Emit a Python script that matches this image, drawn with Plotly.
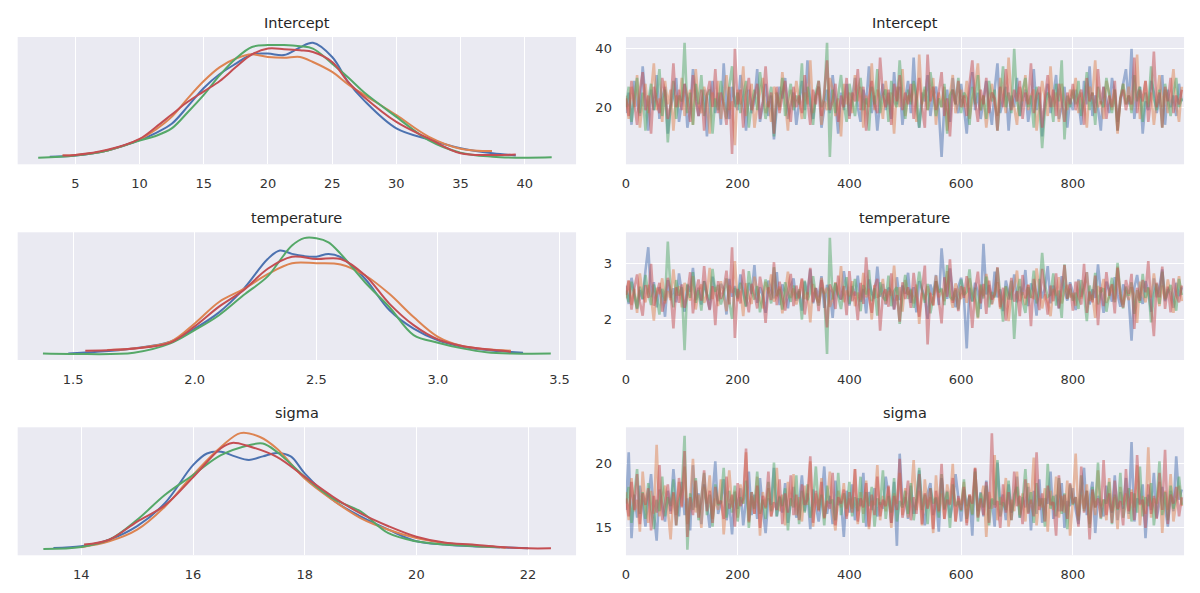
import plotly.graph_objects as go

# ---------------- data ----------------
colors = ["#4c72b0", "#dd8452", "#55a868", "#c44e52"]
params = ["Intercept", "temperature", "sigma"]
draws = list(range(0, 1000, 5))

# KDE curves (relative density)
int_kde_x = [
    [3, 5, 7.5, 10, 11.25, 12.5, 13.75, 15, 16.25, 17.5, 18.75, 20, 21.25, 22.5, 23.5, 25, 26.25, 27.5, 30, 32.5, 35, 37.5, 39.3],
    [4, 5, 7.5, 10, 11.25, 12.5, 13.75, 15, 16.25, 17.5, 18.75, 20, 21.25, 22.5, 23.5, 25, 26.25, 27.5, 30, 32.5, 35, 37.45],
    [2.1, 5, 7.5, 10, 11.25, 12.5, 13.75, 15, 16.25, 17.5, 18.75, 20, 21.25, 22.5, 23.5, 25, 26.25, 27.5, 30, 32.5, 35, 37.5, 40, 42.1],
    [4, 5, 7.5, 10, 11.25, 12.5, 13.75, 15, 16.25, 17.5, 18.75, 20, 21.25, 22.5, 23.5, 25, 26.25, 27.5, 30, 32.5, 35, 37.5, 39.3],
]
int_kde_y = [
    [0.016, 0.027, 0.07, 0.16, 0.22, 0.30, 0.45, 0.61, 0.73, 0.82, 0.90, 0.907, 0.894, 0.96, 1.0, 0.877, 0.66, 0.50, 0.26, 0.166, 0.088, 0.045, 0.027],
    [0.025, 0.03, 0.07, 0.165, 0.25, 0.36, 0.52, 0.67, 0.79, 0.864, 0.90, 0.877, 0.87, 0.877, 0.834, 0.748, 0.64, 0.55, 0.375, 0.19, 0.085, 0.065],
    [0.007, 0.027, 0.07, 0.155, 0.195, 0.26, 0.40, 0.55, 0.72, 0.864, 0.964, 0.98, 0.98, 0.97, 0.95, 0.82, 0.70, 0.57, 0.36, 0.16, 0.05, 0.016, 0.007, 0.01],
    [0.025, 0.03, 0.075, 0.17, 0.27, 0.38, 0.49, 0.58, 0.67, 0.79, 0.90, 0.95, 0.945, 0.935, 0.92, 0.834, 0.66, 0.53, 0.316, 0.174, 0.045, 0.03, 0.035],
]
temp_kde_x = [
    [1.48, 1.6, 1.75, 1.9, 2.0, 2.1, 2.2, 2.3, 2.35, 2.4, 2.45, 2.5, 2.55, 2.6, 2.7, 2.8, 2.9, 3.0, 3.1, 3.2, 3.35],
    [1.64, 1.75, 1.9, 2.0, 2.1, 2.2, 2.3, 2.4, 2.5, 2.6, 2.7, 2.8, 2.9, 3.0, 3.1, 3.2, 3.3],
    [1.376, 1.5, 1.75, 1.9, 2.0, 2.1, 2.2, 2.3, 2.35, 2.4, 2.45, 2.5, 2.55, 2.6, 2.7, 2.8, 2.9, 3.0, 3.1, 3.2, 3.3, 3.464],
    [1.55, 1.75, 1.9, 2.0, 2.1, 2.2, 2.3, 2.4, 2.5, 2.6, 2.7, 2.8, 2.9, 3.0, 3.1, 3.2, 3.3],
]
temp_kde_y = [
    [0.007, 0.02, 0.05, 0.107, 0.22, 0.36, 0.56, 0.82, 0.893, 0.864, 0.845, 0.84, 0.864, 0.836, 0.65, 0.38, 0.22, 0.12, 0.065, 0.036, 0.013],
    [0.036, 0.05, 0.107, 0.265, 0.45, 0.56, 0.69, 0.784, 0.784, 0.773, 0.68, 0.52, 0.32, 0.15, 0.07, 0.042, 0.03],
    [0.005, 0.002, 0.013, 0.093, 0.207, 0.336, 0.507, 0.67, 0.807, 0.936, 1.0, 0.999, 0.964, 0.864, 0.62, 0.407, 0.165, 0.099, 0.05, 0.016, 0.005, 0.005],
    [0.03, 0.05, 0.10, 0.24, 0.41, 0.55, 0.736, 0.84, 0.82, 0.82, 0.68, 0.436, 0.25, 0.127, 0.07, 0.042, 0.022],
]
sigma_kde_x = [
    [13.5, 14, 14.5, 15, 15.5, 16, 16.25, 16.5, 16.75, 17, 17.25, 17.5, 17.75, 18, 18.5, 19, 19.5, 20, 20.5, 21, 21.5, 22],
    [14.0, 14.5, 15, 15.5, 16, 16.5, 16.85, 17.2, 17.5, 18, 18.5, 19, 19.5, 20, 20.5, 21, 21.5, 21.6],
    [13.32, 14, 14.5, 15, 15.5, 16, 16.5, 17, 17.25, 17.5, 18, 18.5, 19, 19.5, 20, 20.5, 21, 21.5],
    [14.05, 14.5, 15, 15.5, 16, 16.5, 16.7, 17, 17.5, 18, 18.5, 19, 19.5, 20, 20.5, 21, 21.5, 22, 22.41],
]
sigma_kde_y = [
    [0.013, 0.027, 0.084, 0.2, 0.4, 0.725, 0.825, 0.84, 0.80, 0.77, 0.80, 0.83, 0.80, 0.654, 0.427, 0.284, 0.17, 0.07, 0.042, 0.027, 0.019, 0.01],
    [0.02, 0.07, 0.17, 0.37, 0.64, 0.88, 1.0, 0.967, 0.868, 0.61, 0.426, 0.27, 0.17, 0.098, 0.056, 0.033, 0.019, 0.013],
    [0.005, 0.022, 0.084, 0.255, 0.47, 0.64, 0.81, 0.896, 0.91, 0.84, 0.625, 0.44, 0.327, 0.14, 0.07, 0.042, 0.03, 0.019],
    [0.042, 0.084, 0.24, 0.38, 0.62, 0.87, 0.916, 0.887, 0.796, 0.625, 0.455, 0.31, 0.2, 0.11, 0.06, 0.042, 0.022, 0.01, 0.01],
]

# Traces (every 5th draw)
intercept_chain1 = [18,25,14,29,21,17,34,22,12,26,19,31,16,23,27,11,20,24,30,15,
    22,28,13,19,33,24,17,21,26,10,23,29,18,25,14,35,20,16,27,22,
    19,31,24,12,26,18,22,33,15,21,28,17,24,9,20,27,23,30,16,21,
    25,14,22,29,19,36,21,16,24,27,13,20,26,18,31,22,11,25,19,28,
    17,23,30,20,15,26,21,34,18,24,12,22,28,19,25,16,32,21,27,14,
    23,29,18,37,20,13,25,22,31,17,24,27,19,3,21,26,15,30,22,18,
    28,20,11,24,32,19,25,16,23,29,21,14,26,35,18,22,27,12,24,20,
    30,17,23,26,15,21,33,19,25,10,22,28,18,24,31,16,20,27,13,23,
    19,26,22,14,29,21,34,17,24,20,12,27,23,18,30,25,15,22,28,33,
    21,40,16,24,27,11,22,19,29,25,18,23,31,14,26,20,24,17,28,22]
intercept_chain2 = [24,16,27,20,31,13,22,28,18,25,35,19,23,15,29,21,26,12,24,20,
    30,17,22,26,14,33,21,18,27,23,11,25,20,29,16,24,31,19,22,7,
    26,21,34,17,23,28,13,20,25,30,18,22,15,27,24,19,32,21,12,26,
    20,29,23,16,25,21,36,18,24,27,14,22,19,30,26,17,23,10,28,21,
    25,18,31,22,27,13,24,20,35,19,26,23,16,29,21,25,11,27,20,33,
    17,24,22,28,15,38,21,26,19,23,30,14,25,20,27,12,24,31,18,22,
    26,20,29,16,23,27,35,19,24,13,22,28,21,17,30,25,18,37,23,20,
    14,27,22,31,19,24,26,12,21,29,23,17,34,20,25,15,28,22,19,26,
    23,30,18,25,21,13,27,24,36,20,22,16,29,25,19,26,11,23,28,21,
    27,19,24,38,16,22,29,21,25,14,23,31,20,26,18,24,33,21,15,27]
intercept_chain3 = [20,27,15,23,30,18,25,12,22,28,19,24,33,17,26,8,21,29,16,24,
    22,42,18,25,14,28,21,31,17,24,26,11,23,19,29,22,16,27,34,20,
    25,18,23,29,13,21,26,19,32,24,16,22,27,10,25,20,30,17,23,28,
    19,24,21,35,16,27,22,14,25,29,20,23,42,3,26,18,24,31,21,15,
    28,22,17,25,30,19,23,12,27,21,33,18,24,26,15,29,22,20,36,23,
    16,26,21,29,24,13,22,27,19,32,25,17,23,20,28,11,24,26,21,30,
    18,25,23,14,27,21,31,19,24,16,29,22,26,12,23,34,20,25,18,40,
    22,17,26,30,20,24,13,27,21,6,19,25,23,15,28,22,36,9,24,20,
    26,21,29,17,23,32,19,25,14,27,22,20,30,24,18,26,12,23,28,21,
    24,18,31,22,27,15,25,20,34,23,19,26,13,28,22,17,25,30,20,23]
intercept_chain4 = [23,17,29,21,14,26,32,19,24,11,27,22,18,30,25,16,21,35,20,26,
    19,28,23,15,31,22,17,26,12,24,29,20,33,18,25,21,14,27,4,40,
    21,26,13,24,30,19,23,28,16,22,34,20,25,11,27,18,24,29,21,15,
    27,20,24,18,31,23,14,26,21,29,17,25,36,19,22,28,15,24,20,30,
    16,25,22,33,19,27,12,23,29,21,18,37,24,20,26,14,28,22,31,19,
    25,21,28,16,24,30,20,13,38,22,27,19,25,32,17,23,10,26,21,29,
    20,24,17,28,36,22,15,26,21,30,18,25,23,12,27,20,33,24,19,26,
    22,29,16,25,21,35,18,24,27,13,23,31,20,26,17,28,22,15,25,21,
    28,19,23,26,14,30,22,25,18,33,21,27,16,24,20,29,12,23,26,19,
    24,21,37,18,26,22,29,15,23,39,20,25,13,27,22,30,18,24,21,26]

temperature_chain1 = [2.61,2.28,2.75,2.44,2.19,2.53,2.36,2.88,3.30,2.40,2.67,2.22,2.58,2.47,2.05,2.71,2.39,2.56,2.31,2.83,
    2.45,2.14,2.62,2.50,2.93,2.35,2.57,2.27,2.69,2.42,2.18,2.77,2.49,2.33,2.64,2.55,2.09,2.73,2.41,2.60,
    2.37,2.81,2.52,2.24,2.66,2.46,2.98,2.30,2.58,2.43,2.12,2.70,2.54,2.38,2.85,2.26,2.63,2.48,2.20,2.59,
    2.74,2.34,2.51,2.16,2.68,2.45,2.90,2.29,2.56,2.40,2.78,2.21,2.62,2.50,2.03,2.66,2.44,2.36,2.87,2.53,
    2.25,2.60,2.43,2.79,2.32,2.55,2.11,2.72,2.47,2.38,2.95,2.41,2.64,2.27,2.57,2.49,2.18,2.76,2.35,2.61,
    2.46,2.84,2.30,2.58,2.13,2.69,2.52,2.39,2.01,2.63,2.44,2.80,2.26,3.28,2.71,2.37,2.92,2.48,2.22,2.59,
    2.75,2.42,1.48,2.57,2.33,2.66,2.50,2.19,3.36,2.45,2.62,2.28,2.86,2.40,2.54,2.15,2.70,2.47,2.36,2.81,
    2.31,2.59,2.44,2.89,2.24,2.65,2.50,2.07,2.73,2.38,2.56,2.96,2.29,2.61,2.43,2.20,2.78,2.52,2.34,2.67,
    2.49,2.17,2.72,2.41,2.58,2.85,2.27,2.54,2.39,2.99,2.46,2.12,2.68,2.53,2.32,2.76,2.45,2.23,2.63,2.50,
    2.36,1.62,2.57,2.80,2.44,2.28,2.69,2.51,2.14,2.74,2.40,2.60,2.90,2.33,2.55,2.47,2.21,2.66,2.42,2.58]
temperature_chain2 = [2.38,2.70,2.26,2.55,2.12,2.83,2.44,2.31,2.62,2.41,1.98,2.57,2.46,2.74,2.29,2.51,2.35,2.90,2.43,2.60,
    2.22,2.66,2.49,2.34,2.78,2.18,2.53,2.63,2.30,2.45,2.93,2.37,2.58,2.24,2.69,2.42,2.15,2.61,2.48,3.05,
    2.33,2.52,2.06,2.65,2.40,2.28,2.77,2.54,2.36,2.20,2.68,2.47,2.81,2.32,2.43,2.59,2.11,2.50,2.86,2.39,
    2.56,2.27,2.45,2.72,2.37,2.49,1.95,2.64,2.41,2.30,2.75,2.46,2.57,2.23,2.38,2.67,2.44,2.96,2.31,2.52,
    2.42,2.69,2.24,2.48,2.35,2.84,2.40,2.55,2.00,2.62,2.39,2.46,2.73,2.28,2.51,2.43,2.97,2.34,2.58,2.14,
    2.71,2.45,2.52,2.29,2.63,1.92,2.48,2.36,2.60,2.44,2.25,2.79,2.40,2.54,2.33,2.87,2.47,2.21,2.65,2.50,
    2.37,2.58,2.30,2.74,2.46,2.35,2.02,2.61,2.42,2.82,2.51,2.27,2.44,2.67,2.19,2.38,2.59,1.97,2.48,2.56,
    2.88,2.33,2.49,2.26,2.63,2.41,2.39,2.92,2.52,2.20,2.45,2.31,2.06,2.55,2.43,2.76,2.29,2.50,2.62,2.40,
    2.47,2.25,2.70,2.38,2.55,2.85,2.34,2.44,2.03,2.60,2.49,2.73,2.30,2.41,2.64,2.36,2.95,2.48,2.27,2.53,
    2.35,2.58,2.43,1.94,2.68,2.46,2.31,2.57,2.40,2.83,2.47,2.24,2.61,2.38,2.72,2.45,2.12,2.50,2.78,2.33]
temperature_chain3 = [2.52,2.31,2.68,2.44,2.20,2.59,2.37,2.80,2.47,2.26,2.63,2.41,2.09,2.55,2.34,3.40,2.49,2.22,2.71,2.43,
    2.58,1.45,2.64,2.39,2.85,2.30,2.53,2.16,2.69,2.46,2.35,2.91,2.50,2.62,2.27,2.45,2.74,2.33,2.01,2.57,
    2.40,2.66,2.48,2.23,2.87,2.51,2.36,2.60,2.13,2.44,2.72,2.52,2.29,2.94,2.42,2.55,2.18,2.67,2.46,2.32,
    2.61,2.38,2.54,2.00,2.70,2.35,2.49,2.78,2.43,2.25,2.57,2.47,1.38,3.47,2.36,2.65,2.41,2.19,2.53,2.76,
    2.28,2.50,2.73,2.42,2.15,2.62,2.45,2.89,2.33,2.56,2.07,2.67,2.40,2.34,2.79,2.24,2.51,2.58,1.92,2.46,
    2.80,2.37,2.55,2.21,2.48,2.86,2.52,2.30,2.64,2.11,2.43,2.69,2.49,2.56,2.26,2.98,2.41,2.35,2.53,2.18,
    2.72,2.44,2.50,2.90,2.32,2.57,2.04,2.63,2.38,2.77,2.22,2.49,2.40,2.93,2.46,1.96,2.60,2.36,2.70,1.65,
    2.47,2.73,2.33,2.12,2.58,2.39,2.88,2.29,2.51,3.20,2.62,2.41,2.45,2.83,2.25,2.52,2.03,2.99,2.37,2.55,
    2.34,2.48,2.19,2.71,2.44,1.97,2.61,2.35,2.84,2.27,2.50,2.56,2.14,2.42,2.75,2.31,3.02,2.46,2.20,2.59,
    2.43,2.67,2.10,2.53,2.30,2.82,2.39,2.58,1.95,2.45,2.64,2.28,2.86,2.36,2.50,2.62,2.40,2.16,2.73,2.44]
temperature_chain4 = [2.44,2.70,2.18,2.56,2.81,2.32,2.07,2.62,2.39,3.00,2.25,2.48,2.66,2.14,2.36,2.75,2.51,1.84,2.58,2.30,
    2.63,2.21,2.46,2.85,2.11,2.49,2.72,2.34,2.96,2.40,2.17,2.60,1.90,2.69,2.37,2.53,2.88,2.27,3.30,1.67,
    2.55,2.29,2.90,2.41,2.13,2.64,2.47,2.20,2.77,2.50,1.94,2.58,2.35,3.03,2.26,2.68,2.42,2.16,2.52,2.82,
    2.24,2.61,2.38,2.74,2.09,2.45,2.93,2.31,2.57,2.15,2.71,2.40,1.86,2.63,2.49,2.19,2.79,2.36,2.60,2.08,
    2.87,2.33,2.50,1.99,2.66,2.28,3.12,2.42,2.12,2.59,2.73,1.80,2.46,2.54,2.23,2.83,2.18,2.44,1.96,2.67,
    2.37,2.58,2.21,2.84,2.43,2.05,2.52,2.97,1.55,2.48,2.26,2.69,2.35,1.93,2.76,2.41,3.08,2.30,2.56,2.15,
    2.60,2.39,2.78,2.47,1.85,2.53,2.86,2.29,2.64,2.10,2.70,2.36,2.45,2.94,2.22,2.57,1.98,2.40,2.75,2.32,
    2.51,2.06,2.80,2.38,2.62,1.88,2.73,2.44,2.17,2.91,2.49,2.09,2.61,2.33,2.83,2.20,2.55,2.98,2.37,2.64,
    2.16,2.68,2.42,2.27,3.00,2.12,2.50,2.31,2.79,1.90,2.58,2.24,2.85,2.43,2.63,2.11,2.93,2.39,2.22,2.71,
    2.46,2.82,1.83,2.57,2.34,2.71,2.49,3.05,2.26,1.70,2.66,2.40,2.95,2.19,2.59,2.13,2.74,2.45,2.31,2.61]

sigma_chain1 = [16.4,20.9,14.2,17.6,15.8,18.3,16.9,15.1,17.4,19.2,16.2,14.0,18.0,16.7,15.5,17.9,16.3,19.6,17.1,15.9,
    18.6,16.0,17.3,14.8,19.9,16.6,17.7,15.3,18.4,16.8,15.0,17.5,20.2,16.1,17.0,18.8,15.6,16.9,14.5,17.8,
    16.5,18.1,15.2,17.2,19.4,16.0,17.6,15.7,18.9,16.4,14.6,17.3,16.8,19.7,15.9,17.4,16.2,18.5,15.4,17.0,
    18.2,15.8,16.9,19.1,16.3,17.7,14.9,18.0,16.6,15.5,17.2,19.8,16.1,17.5,15.3,18.7,16.8,17.1,14.3,17.9,
    16.2,18.4,15.6,17.3,16.7,19.3,15.1,17.8,16.4,18.1,15.9,17.0,16.5,19.0,17.6,15.4,18.6,13.6,20.8,16.8,
    17.4,15.7,18.3,16.1,17.1,19.5,16.6,15.2,17.7,18.5,16.0,17.3,14.7,18.9,16.4,17.9,15.8,16.9,19.2,17.2,
    15.5,18.0,16.7,17.5,14.4,19.6,16.3,17.8,15.9,18.7,16.5,17.2,15.1,20.1,16.8,17.6,15.6,18.4,16.2,17.0,
    19.0,15.8,17.4,16.6,18.2,14.8,17.9,16.1,18.8,15.4,17.3,16.9,19.4,15.7,17.6,16.3,18.5,15.0,17.1,16.7,
    18.1,16.4,15.3,17.7,19.7,16.0,17.2,18.6,14.6,17.5,16.8,15.9,18.3,17.0,16.2,19.1,15.6,17.8,16.5,18.9,
    16.1,21.7,15.5,17.3,16.9,18.4,14.2,17.6,16.4,19.3,15.8,17.0,18.2,16.6,15.1,17.9,16.3,20.6,17.2,18.0]
sigma_chain2 = [17.8,15.6,18.9,16.3,17.2,14.7,19.4,16.8,15.4,17.9,16.1,21.5,15.9,17.4,18.3,16.5,14.1,17.7,16.0,18.6,
    16.7,19.8,15.3,17.1,20.4,16.2,17.6,15.0,18.2,16.9,19.1,15.7,17.3,16.4,18.8,14.5,17.0,19.5,16.6,17.9,
    15.8,18.4,16.9,20.9,15.4,17.5,16.1,19.0,14.4,17.8,16.5,18.1,15.9,17.2,19.7,16.3,17.6,15.2,18.6,16.7,
    19.2,16.0,17.4,15.5,18.3,16.8,20.2,15.1,17.7,16.4,18.9,15.7,17.0,19.4,16.2,14.8,17.9,16.6,18.5,15.9,
    17.3,16.5,19.6,15.3,17.8,16.1,18.7,14.9,17.1,16.8,19.9,15.6,17.5,16.3,18.2,15.0,17.7,16.9,19.3,16.0,
    18.1,15.8,17.2,20.3,16.4,17.9,15.2,18.8,16.6,17.4,14.6,19.1,16.2,17.7,15.7,18.4,16.9,20.0,15.5,17.3,
    16.8,18.6,15.4,17.6,16.1,19.7,15.9,17.0,18.3,14.3,17.8,16.5,20.7,15.6,17.4,16.7,18.9,15.1,17.2,16.3,
    19.4,16.0,17.7,15.5,18.5,16.9,20.5,15.2,17.3,16.6,18.1,14.7,17.9,16.4,19.0,15.8,17.5,16.2,18.7,14.4,
    17.1,20.8,15.9,17.6,16.5,18.4,15.3,17.8,16.0,19.5,16.7,17.2,15.6,18.9,16.3,17.4,14.9,18.2,16.8,17.7,
    15.7,18.0,16.6,19.9,15.2,17.5,16.1,21.3,15.8,17.3,16.9,18.6,14.6,17.9,16.4,19.2,15.5,17.0,18.3,16.7]
sigma_chain3 = [16.9,18.2,15.4,17.5,19.6,16.1,17.8,15.7,18.5,16.6,14.9,17.2,16.3,19.0,15.9,17.4,16.7,18.8,15.2,17.1,
    18.0,22.2,13.3,17.7,16.4,18.9,15.6,17.3,19.3,16.0,17.6,15.1,18.4,16.8,17.0,19.7,15.8,17.9,16.2,18.3,
    15.5,17.4,16.9,18.7,15.0,17.8,16.5,19.4,16.1,17.2,15.7,18.6,16.3,20.1,15.9,17.5,16.7,18.1,14.8,17.3,
    16.6,19.1,15.3,17.9,16.2,18.4,15.8,17.0,19.8,16.4,17.6,15.2,18.3,16.9,17.2,15.6,19.3,16.0,17.7,16.5,
    18.6,15.9,17.4,16.3,19.0,15.4,17.8,16.7,18.2,15.1,17.3,16.8,19.5,15.7,17.5,16.2,18.9,15.5,17.1,16.6,
    17.9,16.1,18.5,15.6,17.2,19.7,16.4,17.6,15.3,18.1,16.9,17.4,15.8,19.2,16.5,17.8,15.0,18.4,16.7,17.1,
    16.3,18.8,15.7,17.5,16.0,19.4,15.5,17.7,16.6,18.3,15.2,17.3,16.8,20.3,15.9,17.0,16.4,18.7,15.6,17.6,
    18.2,15.8,17.1,19.6,16.2,17.8,15.4,18.5,16.7,17.3,15.1,20.0,16.5,17.5,15.9,18.9,16.1,17.7,14.9,18.4,
    16.8,17.4,15.6,19.1,16.3,17.9,15.0,18.2,16.6,20.1,15.7,17.2,16.9,18.6,15.3,17.6,16.4,19.3,15.8,17.0,
    18.1,15.5,17.7,16.2,19.8,15.9,17.4,16.7,18.5,15.2,17.1,20.2,16.0,17.8,15.6,18.3,16.5,17.3,19.0,16.8]
sigma_chain4 = [17.3,15.9,18.6,16.4,19.2,15.3,17.7,16.8,18.1,14.8,17.5,16.2,19.9,15.6,17.0,18.4,16.1,17.8,15.2,18.9,
    16.6,21.0,14.3,17.4,16.0,18.7,15.8,17.2,19.5,16.3,17.9,15.4,18.2,16.9,17.1,15.7,19.0,16.5,17.6,15.1,
    18.5,16.7,17.3,21.2,15.5,17.8,16.1,18.3,15.0,17.5,16.6,19.4,15.9,17.0,16.4,18.8,15.3,17.7,16.2,19.1,
    16.0,17.6,15.6,18.4,16.8,17.2,20.6,15.4,17.9,16.3,18.6,15.8,17.1,16.5,19.3,15.2,17.4,16.9,18.0,15.7,
    17.8,16.2,19.6,15.5,17.3,16.6,18.5,15.1,17.6,16.0,19.0,15.9,17.2,16.7,18.3,15.4,17.5,16.4,20.4,15.8,
    17.0,18.7,15.6,17.4,16.1,19.2,15.3,17.7,16.5,18.1,14.9,17.9,16.3,20.0,15.7,17.2,16.8,18.9,15.5,17.5,
    16.4,18.2,15.2,17.6,16.9,19.7,15.8,17.3,16.0,18.6,15.4,22.4,16.6,17.1,15.0,18.4,16.2,17.8,15.6,19.4,
    16.7,17.5,15.3,18.8,16.1,17.2,15.9,20.9,16.4,17.7,15.5,18.3,16.8,17.0,14.4,19.1,16.3,17.6,15.7,18.5,
    16.9,17.4,15.1,19.8,16.2,17.9,14.1,18.0,16.6,17.3,15.8,20.3,16.0,17.7,15.4,18.7,16.5,17.1,15.2,19.6,
    16.3,17.8,15.6,20.7,16.8,17.2,15.0,18.4,16.1,17.5,15.7,19.3,16.4,21.1,15.3,17.6,16.9,18.2,15.9,17.4]

# axis settings
value_ranges = [[0.5, 44.0], [1.272, 3.568], [12.86, 22.86]]
kde_ticks = [[5, 10, 15, 20, 25, 30, 35, 40], [1.5, 2.0, 2.5, 3.0, 3.5], [14, 16, 18, 20, 22]]
kde_tickfmt = ["d", ".1f", "d"]
trace_yticks = [[20, 40], [2, 3], [15, 20]]
trace_xticks = [0, 200, 400, 600, 800]

kde_x = [int_kde_x, temp_kde_x, sigma_kde_x]
kde_y = [int_kde_y, temp_kde_y, sigma_kde_y]
traces = [
    [intercept_chain1, intercept_chain2, intercept_chain3, intercept_chain4],
    [temperature_chain1, temperature_chain2, temperature_chain3, temperature_chain4],
    [sigma_chain1, sigma_chain2, sigma_chain3, sigma_chain4],
]

# ---------------- figure ----------------
W, H = 1200, 593
left_dom = [13.7 / W, 574 / W]
right_dom = [624.0 / W, 1184.0 / W]
rows_px = [(37.0, 164.3), (232.3, 360.0), (427.3, 555.3)]
BG = "#eaeaf2"
TXT = "#333333"
FONT = "DejaVu Sans"

fig = go.Figure()
layout = dict(
    width=W, height=H, margin=dict(l=0, r=0, t=0, b=0),
    paper_bgcolor="white", plot_bgcolor=BG, showlegend=False,
    font=dict(family=FONT, color=TXT, size=13),
)
annotations = []

for r in range(3):
    top, bot = rows_px[r]
    ydom = [1 - bot / H, 1 - top / H]
    nl = 2 * r + 1
    nr = 2 * r + 2
    sl = "" if nl == 1 else str(nl)
    sr = str(nr)
    # KDE
    for c in range(4):
        fig.add_trace(go.Scatter(
            x=kde_x[r][c], y=kde_y[r][c], mode="lines",
            line=dict(color=colors[c], width=2.0, shape="spline", smoothing=1.0),
            xaxis="x" + sl, yaxis="y" + sl, hoverinfo="skip"))
    # traces
    for c in range(4):
        fig.add_trace(go.Scatter(
            x=draws, y=traces[r][c], mode="lines",
            line=dict(color=colors[c], width=2.6), opacity=0.5,
            xaxis="x" + sr, yaxis="y" + sr, hoverinfo="skip"))

    common = dict(showline=False, zeroline=False, ticks="", gridcolor="white", gridwidth=1.3,
                  tickfont=dict(family=FONT, size=13, color=TXT))
    layout["xaxis" + sl] = dict(common, domain=left_dom, anchor="y" + sl, range=value_ranges[r],
                                tickvals=kde_ticks[r], tickformat=kde_tickfmt[r], showgrid=True,
                                ticklabelstandoff=10)
    layout["yaxis" + sl] = dict(common, domain=ydom, anchor="x" + sl, range=[-0.05, 1.05],
                                showticklabels=False, showgrid=False)
    layout["xaxis" + sr] = dict(common, domain=right_dom, anchor="y" + sr, range=[0, 999],
                                tickvals=trace_xticks, showgrid=True, ticklabelstandoff=10)
    layout["yaxis" + sr] = dict(common, domain=ydom, anchor="x" + sr, range=value_ranges[r],
                                tickvals=trace_yticks[r], showgrid=True, ticklabelstandoff=13)

    ty = 1 - (top - 14.5) / H
    for dom in (left_dom, right_dom):
        annotations.append(dict(
            text=params[r], x=(dom[0] + dom[1]) / 2, y=ty, xref="paper", yref="paper",
            xanchor="center", yanchor="middle", showarrow=False,
            font=dict(family=FONT, size=14.5, color="#262626")))

layout["annotations"] = annotations
fig.update_layout(**layout)
fig.write_html("out.html", config={"displayModeBar": False},
               post_script="document.body.style.margin='0px';")
